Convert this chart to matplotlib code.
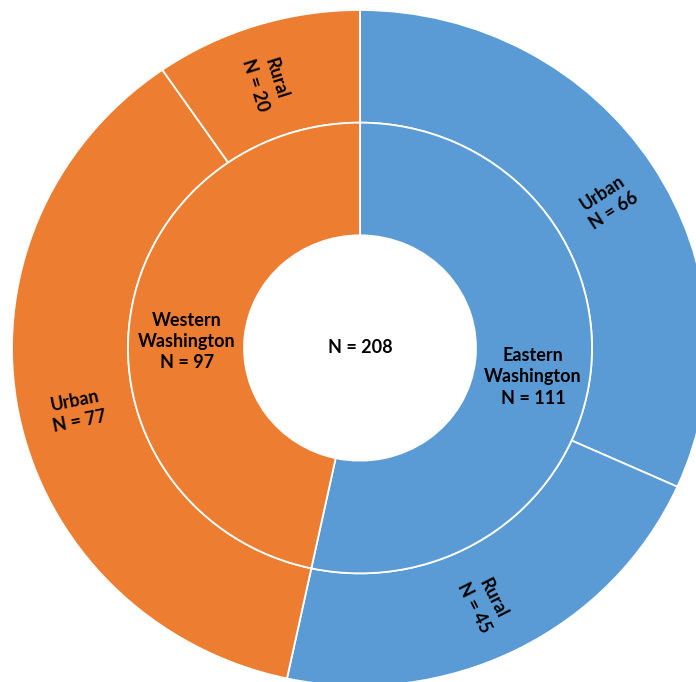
import matplotlib
matplotlib.use("Agg")
import matplotlib.pyplot as plt
import numpy as np

total_label = "N = 208"
inner_names = ["Eastern\nWashington", "Western\nWashington"]
inner_values = [111, 97]
outer_names = ["Urban", "Rural", "Urban", "Rural"]
outer_values = [66, 45, 77, 20]
outer_parent = [0, 0, 1, 1]
colors = ["#5B9BD5", "#ED7D31"]

plt.rcParams['font.family'] = ['Lato', 'DejaVu Sans']

fig = plt.figure(figsize=(6.96, 6.82), dpi=100)
ax = fig.add_axes([0, 0, 1, 1])

wp = dict(edgecolor='white', linewidth=1.3)
ax.pie(outer_values, radius=1.0, startangle=90, counterclock=False,
       colors=[colors[p] for p in outer_parent],
       wedgeprops=dict(width=1/3, **wp), frame=True)
ax.pie(inner_values, radius=2/3, startangle=90, counterclock=False,
       colors=colors, wedgeprops=dict(width=1/3, **wp), frame=True)
ax.set_xlim(-360 / 348, 336 / 348)
ax.set_ylim(-334 / 338, 348 / 338)
ax.set_aspect('auto')
ax.axis('off')

fs = 13
ls = 1.3
tot = sum(outer_values)


def label(x, y, s, rot, d):
    r = np.deg2rad(rot)
    dx, dy = d * np.sin(r), -d * np.cos(r)
    ax.annotate(s, (x, y), xytext=(dx, dy), textcoords='offset points',
                ha='center', va='center', rotation=rot, rotation_mode='anchor',
                fontsize=fs, fontweight='bold', linespacing=ls)


cum = 0
for name, v in zip(outer_names, outer_values):
    mid = 90 - (cum + v / 2) / tot * 360
    cum += v
    a = np.deg2rad(mid)
    r = 5 / 6
    rot = ((mid + 90) % 180) - 90
    label(r * np.cos(a), r * np.sin(a), f"{name}\nN = {v}", rot, 6)

cum = 0
for name, v in zip(inner_names, inner_values):
    mid = 90 - (cum + v / 2) / tot * 360
    cum += v
    a = np.deg2rad(mid)
    r = 0.5
    label(r * np.cos(a), r * np.sin(a), f"{name}\nN = {v}", 0, 8)

ax.text(0, 0, total_label, ha='center', va='center', fontsize=fs, fontweight='bold')

fig.savefig("out.png", dpi=100)
